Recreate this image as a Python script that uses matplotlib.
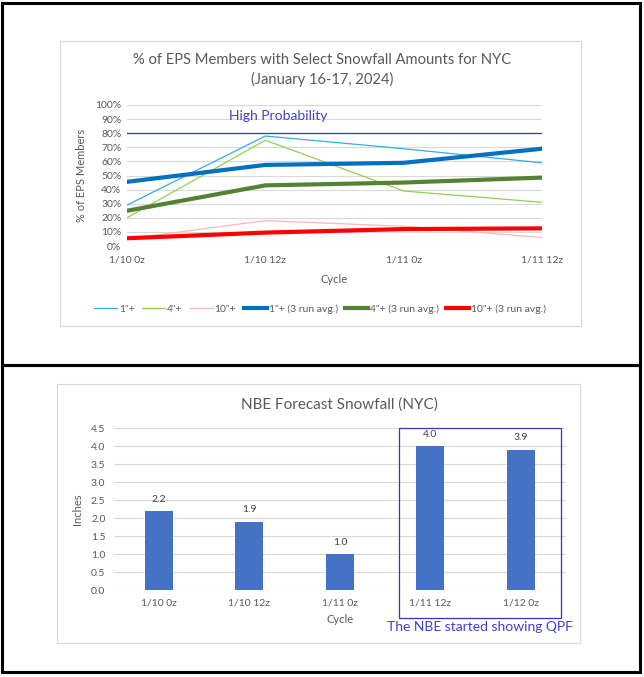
import matplotlib
matplotlib.use("Agg")
import matplotlib.pyplot as plt
from matplotlib.patches import Rectangle
import numpy as np

plt.rcParams["font.family"] = ["Lato", "DejaVu Sans"]

# top chart data (% of EPS members)
cycles_top = ["1/10 0z", "1/10 12z", "1/11 0z", "1/11 12z"]
pct_1in = [29, 78, 69, 59]
pct_4in = [20, 75, 39, 31]
pct_10in = [5, 18, 14, 6]
avg_1in = [45.5, 57.5, 59, 69]
avg_4in = [25, 43, 45, 48.5]
avg_10in = [5.5, 9.5, 12, 12.5]
high_prob = 80

# bottom chart data (NBE snowfall, inches)
cycles_nbe = ["1/10 0z", "1/10 12z", "1/11 0z", "1/11 12z", "1/12 0z"]
snow_nbe = [2.2, 1.9, 1.0, 4.0, 3.9]

W, H = 644, 677
TXT = "#595959"
GRID = "#D9D9D9"


def fx(px):
    return px / W


def fy(py):
    return 1 - py / H


fig = plt.figure(figsize=(W / 100, H / 100), dpi=100)

# outer black frames
for (x0, y0, x1, y1) in [(2, 3, 640, 365), (2, 365, 640, 672)]:
    fig.add_artist(Rectangle((fx(x0), fy(y1)), fx(x1 - x0), fy(y0) - fy(y1),
                             transform=fig.transFigure, fill=False,
                             edgecolor="black", linewidth=2.2))
# light grey chart area boxes
for (x0, y0, x1, y1) in [(60, 41, 581, 326), (57, 384, 580, 643)]:
    fig.add_artist(Rectangle((fx(x0), fy(y1)), fx(x1 - x0), fy(y0) - fy(y1),
                             transform=fig.transFigure, fill=False,
                             edgecolor=GRID, linewidth=0.8))

# ---------- top chart ----------
ax = fig.add_axes([fx(127), fy(246), fx(542 - 127), fy(105) - fy(246)])
x = np.arange(len(cycles_top))
ax.axhline(high_prob, color="#3333CC", lw=0.9, zorder=2)
ax.plot(x, pct_1in, color="#2FAEEC", lw=0.9, label='1"+')
ax.plot(x, pct_4in, color="#92D050", lw=0.9, label='4"+')
ax.plot(x, pct_10in, color="#F8B8B8", lw=0.9, label='10"+')
ax.plot(x, avg_1in, color="#0070C0", lw=3, label='1"+ (3 run avg.)')
ax.plot(x, avg_4in, color="#548235", lw=3, label='4"+ (3 run avg.)')
ax.plot(x, avg_10in, color="#FF0000", lw=3, label='10"+ (3 run avg.)')
ax.text(1.09, 92.5, "High Probability", color="#4040D0", fontsize=10,
        ha="center", va="center")
ax.set_xlim(0, len(cycles_top) - 1)
ax.set_ylim(0, 100)
ax.set_yticks(np.arange(0, 101, 10))
ax.set_yticklabels([f"{v}%" for v in range(0, 101, 10)])
ax.set_xticks(x)
ax.set_xticklabels(cycles_top)
ax.grid(axis="y", color=GRID, lw=0.8)
ax.set_axisbelow(True)
for s in ax.spines.values():
    s.set_visible(False)
ax.tick_params(axis="y", length=0, labelsize=7.5, colors=TXT, pad=4)
ax.tick_params(axis="x", length=0, labelsize=7.5, colors=TXT, pad=7)
ax.set_ylabel("% of EPS Members", fontsize=8, color=TXT, labelpad=6)
ax.set_xlabel("Cycle", fontsize=8, color=TXT, labelpad=7)
fig.text(0.5, fy(70), "% of EPS Members with Select Snowfall Amounts for NYC\n(January 16-17, 2024)",
         ha="center", va="center", fontsize=10.6, color=TXT, linespacing=1.45)
fig.legend(*ax.get_legend_handles_labels(), loc="center",
           bbox_to_anchor=(fx(320), fy(309)), ncol=6, frameon=False,
           fontsize=7.5, labelcolor=TXT, handlelength=2.2, handletextpad=0.2,
           columnspacing=0.7)

# ---------- bottom chart ----------
bx = fig.add_axes([fx(113.75), fy(590), fx(566 - 113.75), fy(428) - fy(590)])
xb = np.arange(len(cycles_nbe))
bars = bx.bar(xb, snow_nbe, width=0.31, color="#4472C4", zorder=3)
for b, v in zip(bars, snow_nbe):
    bx.text(b.get_x() + b.get_width() / 2, v + 0.2, f"{v:.1f}", ha="center",
            va="bottom", fontsize=7.5, color="#404040")
bx.set_xlim(-0.5, len(cycles_nbe) - 0.5)
bx.set_ylim(0, 4.5)
bx.set_yticks(np.arange(0, 4.51, 0.5))
bx.set_yticklabels([f"{v:.1f}" for v in np.arange(0, 4.51, 0.5)])
bx.set_xticks(xb)
bx.set_xticklabels(cycles_nbe)
bx.grid(axis="y", color=GRID, lw=0.8)
bx.set_axisbelow(True)
for s in bx.spines.values():
    s.set_visible(False)
bx.tick_params(length=0, labelsize=7.5, colors=TXT, pad=6)
bx.set_ylabel("Inches", fontsize=8, color=TXT, labelpad=6)
bx.set_xlabel("Cycle", fontsize=8, color=TXT, labelpad=5)
bx.set_title("NBE Forecast Snowfall (NYC)", fontsize=11, color=TXT, pad=14)
bx.add_patch(Rectangle((2.65, -0.78), 4.44 - 2.65, 4.5 + 0.78, fill=False,
                       edgecolor="#3333CC", lw=0.9, clip_on=False, zorder=4))
bx.text(3.55, -1.04, "The NBE started showing QPF", ha="center", va="center",
        fontsize=10, color="#4040D0")

fig.savefig("out.png", dpi=100)
